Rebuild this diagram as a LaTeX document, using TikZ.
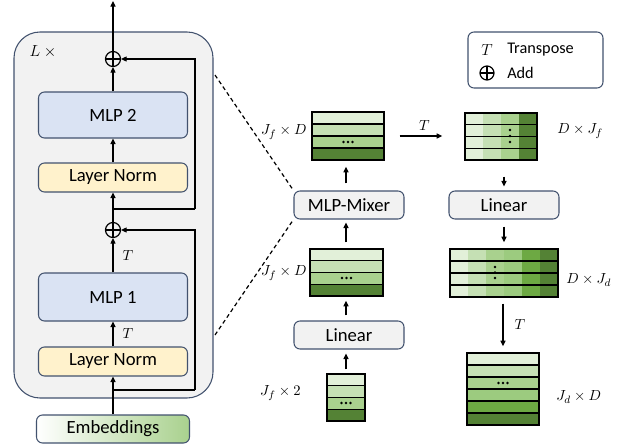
\documentclass[tikz,border=0pt]{standalone}
\usepackage{fontspec}
\setmainfont{Carlito}
\usetikzlibrary{arrows.meta,calc}
\definecolor{bord}{HTML}{42526E}
\definecolor{panelgray}{HTML}{F2F2F2}
\definecolor{mlpblue}{HTML}{DAE3F3}
\definecolor{lnyellow}{HTML}{FFF2CC}
\definecolor{g1}{HTML}{E2F0D9}
\definecolor{g2}{HTML}{C5E0B4}
\definecolor{g3}{HTML}{A9D18E}
\definecolor{g4}{HTML}{9CCB7F}
\definecolor{g5}{HTML}{6DA943}
\definecolor{g6}{HTML}{548235}
% row stripes: x1 y1 x2 y2 n colours
\newcommand\rowfill[6]{%
  \foreach \c [count=\i from 0] in {#6}{%
    \fill[\c] (#1,{#2+\i*(#4-#2)/#5}) rectangle (#3,{#2+(\i+1)*(#4-#2)/#5});
  }%
  \rowlines{#1}{#2}{#3}{#4}{#5}}
% column stripes: x1 y1 x2 y2 n colours
\newcommand\colfill[6]{%
  \foreach \c [count=\i from 0] in {#6}{%
    \fill[\c] ({#1+\i*(#3-#1)/#5},#2) rectangle ({#1+(\i+1)*(#3-#1)/#5},#4);
  }}
% horizontal separators: x1 y1 x2 y2 n
\newcommand\rowlines[5]{%
  \foreach \i in {1,...,#5}{%
    \ifnum\i<#5\relax
      \draw[line width=1pt] (#1,{#2+\i*(#4-#2)/#5}) -- (#3,{#2+\i*(#4-#2)/#5});
    \fi
  }}
\newcommand\hdots[2]{\foreach \dx in {-4.5,0,4.5}{\fill ({#1+\dx},#2) circle (1pt);}}
\newcommand\vdotsat[4]{\foreach \yy in {#2,#3,#4}{\fill (#1,\yy) circle (1pt);}}
\tikzset{
  box/.style={draw=bord, line width=0.8pt, rounded corners=4.5pt, inner sep=0pt,
              font=\fontsize{14}{16}\selectfont},
  panel/.style={draw=bord, line width=0.8pt, fill=panelgray, rounded corners=19.5pt, inner sep=0pt},
  mat/.style={draw=black, line width=1pt, inner sep=0pt},
  arr/.style={-{Triangle[length=4.2pt,width=3.8pt]}, line width=0.9pt},
  addop/.style={circle, draw, line width=0.9pt, minimum size=11.25pt, inner sep=0pt,
    path picture={\draw[line width=0.9pt] (path picture bounding box.north) -- (path picture bounding box.south)
      (path picture bounding box.west) -- (path picture bounding box.east);}},
  lab/.style={font=\fontsize{11}{13}\selectfont, inner sep=0pt},
  dashln/.style={line width=0.9pt, dash pattern=on 3pt off 2.25pt},
  legtext/.style={font=\fontsize{12.2}{14}\selectfont, inner sep=0pt}
}
\begin{document}
\begin{tikzpicture}[x=0.75pt,y=-0.75pt]
\useasboundingbox (0,0) rectangle (618,446);

% ---------------- left block ----------------
\node[panel, minimum width=149.25pt, minimum height=274.5pt] (blk) at (113.5,215) {};
\node[font=\fontsize{12.5}{14}\selectfont, inner sep=0pt] (lx) at (43,52) {$L$ $\times$};

\node[addop] (add2) at (113,59) {};
\node[box, fill=mlpblue, minimum width=111.75pt, minimum height=34.5pt] (mlp2) at (113,115) {MLP 2};
\node[box, fill=lnyellow, minimum width=111.75pt, minimum height=21.75pt] (ln2) at (113,177.5) {Layer Norm};
\node[addop] (add1) at (113,230) {};
\node[box, fill=mlpblue, minimum width=111.75pt, minimum height=36pt] (mlp1) at (113,297) {MLP 1};
\node[box, fill=lnyellow, minimum width=111.75pt, minimum height=21.75pt] (ln1) at (113,361.5) {Layer Norm};
\node[box, shading=axis, left color=white, right color=g3, minimum width=114.75pt, minimum height=21pt] (emb) at (113,429) {Embeddings};

\coordinate (br1) at (113,390);
\coordinate (sk1) at (195,390);
\coordinate (br2) at (113,209);
\coordinate (sk2) at (195,209);
\coordinate (top) at (113,1);

\draw[arr] (emb) -- (ln1);
\draw[line width=0.9pt] (br1) -- (sk1);
\draw[arr] (sk1) |- (add1);
\draw[arr] (ln1) -- node[midway, right=6.75pt, lab] {$T$} (mlp1);
\draw[arr] (mlp1) -- node[midway, right=6.75pt, lab] {$T$} (add1);
\draw[arr] (add1) -- (ln2);
\draw[line width=0.9pt] (br2) -- (sk2);
\draw[arr] (sk2) |- (add2);
\draw[arr] (ln2) -- (mlp2);
\draw[arr] (mlp2) -- (add2);
\draw[arr] (add2) -- (top);

% ---------------- middle column ----------------
\node[box, fill=panelgray, minimum width=82.5pt, minimum height=21pt] (mixer) at (349,205) {MLP-Mixer};

\rowfill{312}{112}{384}{160}{4}{g1,g2,g3,g6}
\node[mat, minimum width=54pt, minimum height=36pt] (m1) at (348,136) {};
\hdots{348}{142}
\node[lab, anchor=east] (m1l) at (307,132) {$J_f\times D$};

\rowfill{310}{249}{383}{296}{4}{g1,g2,g3,g6}
\node[mat, minimum width=54.75pt, minimum height=35.25pt] (m2) at (346.5,272.5) {};
\hdots{346.5}{278}
\node[lab, anchor=east] (m2l) at (307,273) {$J_f\times D$};

\node[box, fill=panelgray, minimum width=82.5pt, minimum height=21pt] (lin1) at (349,335) {Linear};

\rowfill{327}{374}{365}{421}{4}{g1,g2,g3,g6}
\node[mat, minimum width=28.5pt, minimum height=35.25pt] (sm) at (346,397.5) {};
\hdots{346}{403}
\node[lab, anchor=east] (sml) at (301,393) {$J_f\times 2$};

\draw[arr, shorten <=3pt, shorten >=3pt] (sm.north) -- (sm.north |- lin1.south);
\draw[arr, shorten <=3.75pt, shorten >=3pt] (sm.north |- lin1.north) -- (sm.north |- m2.south);
\draw[arr, shorten <=4.5pt, shorten >=2.25pt] (sm.north |- m2.north) -- (sm.north |- mixer.south);
\draw[arr, shorten <=5.25pt, shorten >=4.5pt] (sm.north |- mixer.north) -- (sm.north |- m1.south);

\coordinate (dA) at (215,75);
\coordinate (dB) at (215,335);
\draw[dashln] (dA) -- (mixer.north west);
\draw[dashln] (dB) -- (mixer.south west);

% ---------------- right column ----------------
\colfill{465}{113}{537}{160}{4}{g1,g2,g3,g6}
\rowlines{465}{113}{537}{160}{4}
\node[mat, minimum width=54pt, minimum height=35.25pt] (mt) at (501,136.5) {};
\vdotsat{510}{130}{136}{142}
\node[lab, anchor=west] (mtl) at (557,131) {$D\times J_f$};

\draw[arr, shorten <=11.25pt, shorten >=16.5pt] (m1.east) -- node[midway, above=3.75pt, lab] {$T$} (m1.east -| mt.west);

\node[box, fill=panelgray, minimum width=82.5pt, minimum height=21pt] (lin2) at (504,205) {Linear};
\draw[arr, shorten <=12pt, shorten >=3pt] (mt.south -| lin2) -- (lin2.north);

\colfill{450}{249}{558}{297}{6}{g1,g2,g3,g4,g5,g6}
\rowlines{450}{249}{558}{297}{4}
\node[mat, minimum width=81pt, minimum height=36pt] (md) at (504,273) {};
\vdotsat{495}{267}{272.5}{278}
\node[lab, anchor=west] (mdl) at (566,280) {$D\times J_d$};
\draw[arr, shorten <=5.25pt, shorten >=4.5pt] (lin2.south) -- (md.north);

\rowfill{467}{353}{539}{425}{6}{g1,g2,g3,g4,g5,g6}
\node[mat, minimum width=54pt, minimum height=54pt] (mb) at (503,389) {};
\hdots{503}{383}
\node[lab, anchor=west] (mbl) at (556,397) {$J_d\times D$};
\draw[arr, shorten <=4.5pt, shorten >=4.5pt] (md.south -| mb) -- node[midway, right=8.25pt, lab] {$T$} (mb.north);

% ---------------- legend ----------------
\node[box, fill=white, minimum width=101.25pt, minimum height=42pt] (leg) at (535.5,60) {};
\node[legtext] (legT) at (487,50) {$T$};
\node[legtext, anchor=west] (legTt) at (507,50) {Transpose};
\node[addop, minimum size=10.5pt] (legA) at (487,73) {};
\node[legtext, anchor=west] (legAt) at (507,73) {Add};
\end{tikzpicture}
\end{document}
